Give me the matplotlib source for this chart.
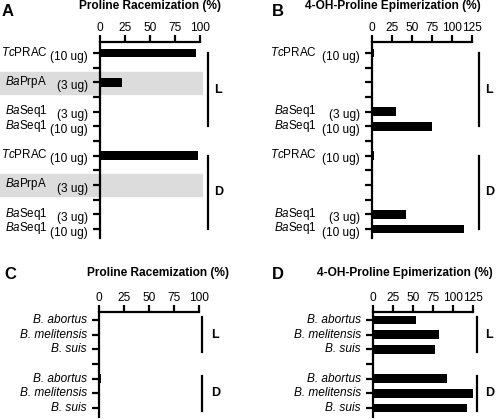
import numpy as np
import matplotlib.pyplot as plt
from matplotlib.patches import Rectangle

plt.rcParams['font.family'] = ['Liberation Sans', 'DejaVu Sans']
plt.rcParams['mathtext.fontset'] = 'custom'
plt.rcParams['mathtext.rm'] = 'Liberation Sans'
plt.rcParams['mathtext.it'] = 'Liberation Sans:italic'

# panel A / B rows (enzymes), 13 slots on the y axis
ab_slots = 13
a_pos = [0, 2, 4, 5, 7, 9, 11, 12]
a_names = [r'$\mathit{Tc}$PRAC', r'$\mathit{Ba}$PrpA', r'$\mathit{Ba}$Seq1', r'$\mathit{Ba}$Seq1'] * 2
a_amts = ['(10 ug)', '(3 ug)', '(3 ug)', '(10 ug)'] * 2
a_vals = [96, 22, 0, 0, 98, 0, 0, 0]
a_grey = [2, 9]

b_pos = [0, 4, 5, 7, 11, 12]
b_names = [r'$\mathit{Tc}$PRAC', r'$\mathit{Ba}$Seq1', r'$\mathit{Ba}$Seq1'] * 2
b_amts = ['(10 ug)', '(3 ug)', '(10 ug)'] * 2
b_vals = [3, 30, 75, 3, 42, 115]

# panel C / D rows (species), 7 slots
cd_slots = 7
cd_pos = [0, 1, 2, 4, 5, 6]
species = ['B. abortus', 'B. melitensis', 'B. suis'] * 2
c_vals = [0, 0, 0, 2, 0, 0]
d_vals = [54, 82, 77, 92, 125, 117]

W, H = 498, 419
FS = 8.6
fig = plt.figure(figsize=(W / 100, H / 100), dpi=100)


def make_ax(left, top, bottom, y0, step, nslots, xmax, xticks):
    ax = fig.add_axes([left / W, 1 - bottom / H, 100 / W, (bottom - top) / H])
    ax.set_xlim(0, xmax)
    ax.set_ylim((bottom - y0) / step, (top - y0) / step)
    ax.set_yticks(range(nslots))
    ax.set_yticklabels([])
    ax.set_xticks(xticks)
    ax.xaxis.tick_top()
    for s in ['right', 'bottom']:
        ax.spines[s].set_visible(False)
    for s in ['left', 'top']:
        ax.spines[s].set_linewidth(1.6)
    ax.tick_params(axis='y', length=5, width=1.6, direction='out')
    ax.tick_params(axis='x', length=5, width=1.6, direction='out', pad=1,
                   labelsize=FS)
    return ax


def bracket(ax, x, lab_x, y1, y2, label):
    ax.plot([x, x], [y1, y2], color='black', lw=1.6, transform=ax.get_yaxis_transform(),
            clip_on=False)
    ax.text(lab_x, (y1 + y2) / 2, label, transform=ax.get_yaxis_transform(),
            ha='left', va='center', fontsize=9, fontweight='bold')


# ---- A ----
axA = make_ax(100, 42, 238, 53, 14.67, ab_slots, 100, [0, 25, 50, 75, 100])
axA.barh(a_pos, a_vals, height=0.6, color='black')
for g in a_grey:
    axA.add_patch(Rectangle((-1.0, g - 0.72), 2.02, 1.5, transform=axA.get_yaxis_transform(),
                            color='#dcdcdc', zorder=0, clip_on=False))
for p, n, a in zip(a_pos, a_names, a_amts):
    axA.text(-0.525, p - 0.05, n, transform=axA.get_yaxis_transform(), ha='right',
             va='center', fontsize=8.4)
    axA.text(-0.12, p + 0.25, a, transform=axA.get_yaxis_transform(), ha='right',
             va='center', fontsize=FS)
bracket(axA, 1.08, 1.14, 0, 5, 'L')
bracket(axA, 1.08, 1.14, 7, 12, 'D')

# ---- B ----
axB = make_ax(372, 42, 238, 53, 14.67, ab_slots, 125, [0, 25, 50, 75, 100, 125])
axB.barh(b_pos, b_vals, height=0.6, color='black')
for p, n, a in zip(b_pos, b_names, b_amts):
    axB.text(-0.55, p - 0.05, n, transform=axB.get_yaxis_transform(), ha='right',
             va='center', fontsize=8.4)
    axB.text(-0.12, p + 0.25, a, transform=axB.get_yaxis_transform(), ha='right',
             va='center', fontsize=FS)
bracket(axB, 1.07, 1.13, 0, 5, 'L')
bracket(axB, 1.07, 1.13, 7, 12, 'D')

# ---- C ----
axC = make_ax(99, 312, 417, 320, 14.67, cd_slots, 100, [0, 25, 50, 75, 100])
axC.barh(cd_pos, c_vals, height=0.6, color='black')
for p, s in zip(cd_pos, species):
    axC.text(-0.12, p, s, transform=axC.get_yaxis_transform(), ha='right',
             va='center', fontsize=FS, style='italic')
bracket(axC, 1.03, 1.12, -0.2, 2.2, 'L')
bracket(axC, 1.03, 1.12, 3.8, 6.2, 'D')

# ---- D ----
axD = make_ax(373, 312, 417, 320, 14.67, cd_slots, 125, [0, 25, 50, 75, 100, 125])
axD.barh(cd_pos, d_vals, height=0.6, color='black')
for p, s in zip(cd_pos, species):
    axD.text(-0.12, p, s, transform=axD.get_yaxis_transform(), ha='right',
             va='center', fontsize=FS, style='italic')
bracket(axD, 1.04, 1.12, -0.2, 2.2, 'L')
bracket(axD, 1.04, 1.12, 3.8, 6.2, 'D')

# titles and panel letters
for x, y, t in [(150, 6, 'Proline Racemization (%)'), (393, 6, '4-OH-Proline Epimerization (%)'),
                (158, 273, 'Proline Racemization (%)'), (405, 273, '4-OH-Proline Epimerization (%)')]:
    fig.text(x / W, 1 - y / H, t, ha='center', va='center', fontsize=8.6, fontweight='bold')
for x, y, t in [(2, 11, 'A'), (272, 11, 'B'), (4, 274, 'C'), (272, 274, 'D')]:
    fig.text(x / W, 1 - y / H, t, ha='left', va='center', fontsize=12, fontweight='bold')

fig.savefig('out.png', dpi=100)
